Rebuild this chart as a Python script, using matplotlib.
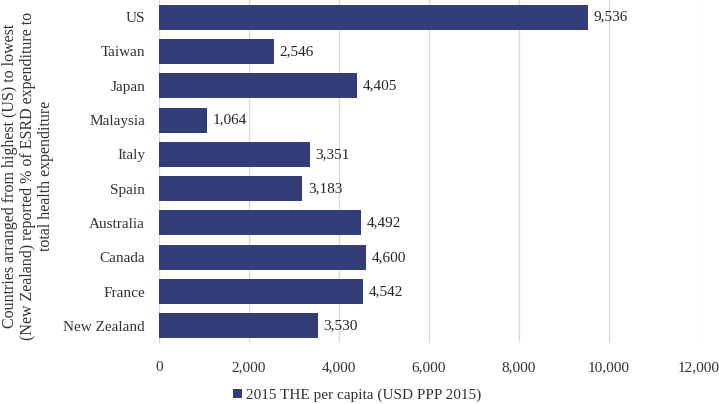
import matplotlib
matplotlib.use("Agg")
import matplotlib.pyplot as plt

# ----- Data -----
countries = ['US', 'Taiwan', 'Japan', 'Malaysia', 'Italy', 'Spain',
             'Australia', 'Canada', 'France', 'New Zealand']
the_per_capita = [9536, 2546, 4405, 1064, 3351, 3183, 4492, 4600, 4542, 3530]
x_ticks = [0, 2000, 4000, 6000, 8000, 10000, 12000]
series_label = '2015 THE per capita (USD PPP 2015)'
ylabel = ('Countries arranged from highest (US) to lowest\n'
          '(New Zealand) reported % of ESRD expenditure to\n'
          'total health expenditure')

bar_color = '#333D78'
plt.rcParams['font.family'] = ['Liberation Serif', 'DejaVu Serif']

fig = plt.figure(figsize=(7.19, 4.04), dpi=100)
ax = fig.add_axes([0.2211, 0.151, 0.7511, 0.849])

ypos = list(range(len(countries)))
bars = ax.barh(ypos, the_per_capita, height=0.73, color=bar_color,
               label=series_label, zorder=3)
ax.set_ylim(len(countries) - 0.5, -0.5)
ax.set_xlim(0, 12000)

for rect, v in zip(bars, the_per_capita):
    ax.text(rect.get_width() + 130, rect.get_y() + rect.get_height() / 2,
            f'{v:,}', va='center', ha='left', fontsize=11, color='#262626')

ax.set_yticks(ypos)
ax.set_yticklabels(countries, fontsize=11, color='#333333')
ax.set_xticks(x_ticks)
ax.set_xticklabels([f'{t:,}' for t in x_ticks], fontsize=11, color='#333333')
ax.tick_params(axis='both', length=0)
ax.tick_params(axis='x', pad=13)
ax.tick_params(axis='y', pad=10)

ax.grid(axis='x', color='#D9D9D9', linewidth=0.9, zorder=0)
for s in ['top', 'right', 'bottom']:
    ax.spines[s].set_visible(False)
ax.spines['left'].set_color('#D9D9D9')

fig.text(0.039, 0.565, ylabel, rotation=90, ha='center', va='center',
         fontsize=11.5, color='#333333', linespacing=1.2, multialignment='center')

fig.legend(loc='center', bbox_to_anchor=(0.497, 0.022), frameon=False,
           fontsize=11, handlelength=0.55, handleheight=0.55, handletextpad=0.3,
           labelcolor='#333333')

fig.savefig('out.png', dpi=100)
